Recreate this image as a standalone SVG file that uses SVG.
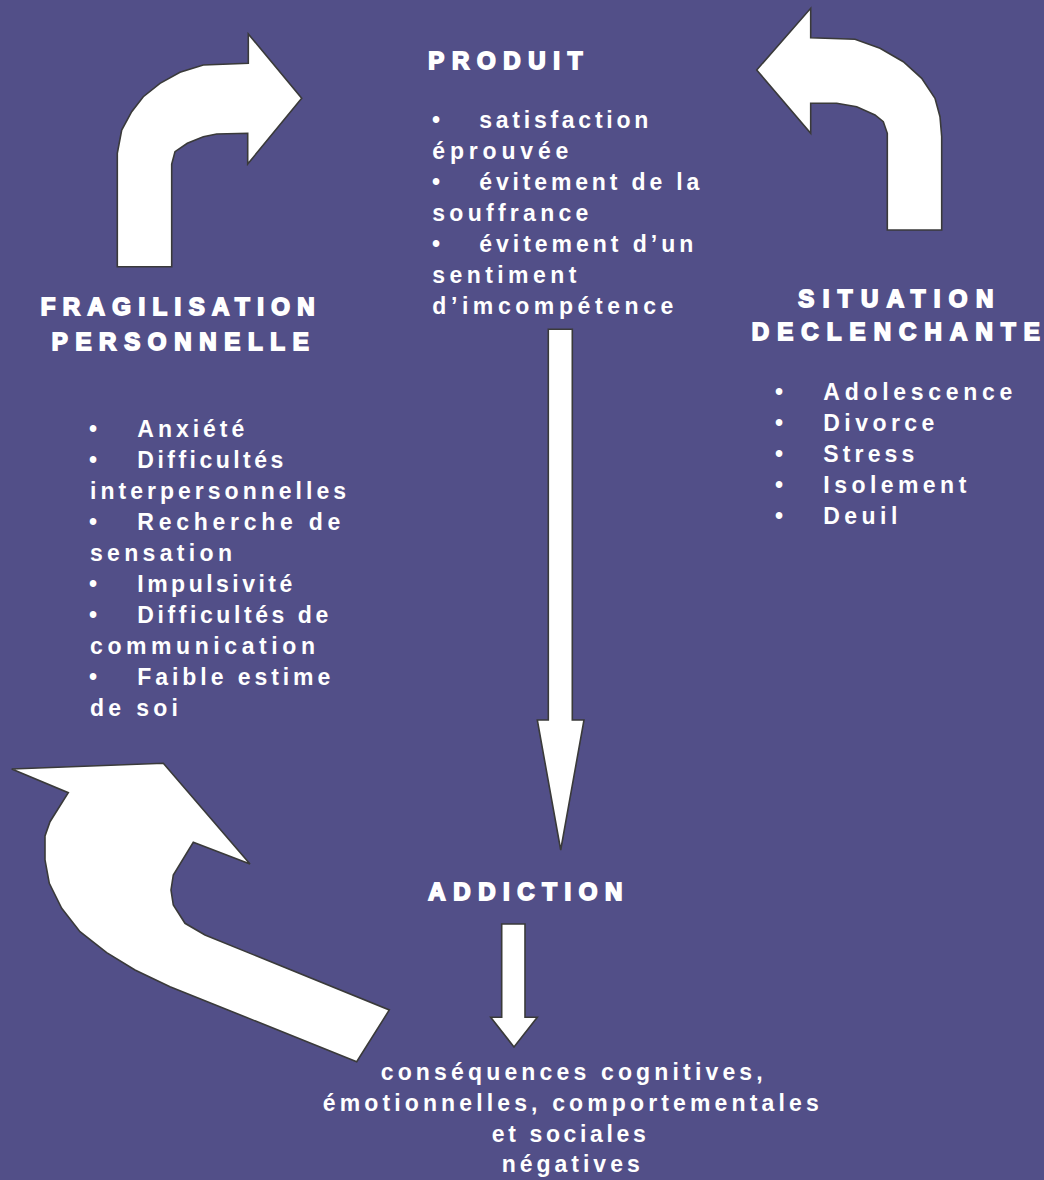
<svg xmlns="http://www.w3.org/2000/svg" width="1044" height="1180" viewBox="0 0 1044 1180">
<style>
.t{font-family:"Liberation Sans",Arial,sans-serif;font-weight:bold;font-size:23px;fill:#fff}
.h{font-family:"Liberation Sans",Arial,sans-serif;font-weight:bold;font-size:24px;fill:#fff;stroke:#fff;stroke-width:1.8}
.ar{fill:#fff;stroke:#3a3a3a;stroke-width:1.6;stroke-linejoin:miter}
</style>
<rect width="1044" height="1180" fill="#524F88"/>
<g id="connectors">
<polygon class="ar" points="117.3,266.7 171.7,266.7 171.7,164 175,151.7 187.3,143.3 203.3,136.7 216.7,134 247.7,133.3 247.7,164 301.7,98.3 248.3,34 248.3,63.3 203.3,65 180,72.3 160,83.3 143.3,96.7 131.7,111.7 121.7,130 117.3,153.3"/>
<polygon class="ar" points="756.7,70 810.7,8.3 810.7,37.7 855,39.3 880,48.3 903.3,61.7 921.7,78.3 935,98.3 940,116.7 941.7,136.7 941.7,230 887.3,230 887.3,133.3 883.3,121.7 875,115 856.7,106.7 836.7,103.3 810.7,103.3 810.7,133.3"/>
<polygon class="ar" points="11.7,769 163.3,763.3 250,864 193.3,842.3 173.3,875 171,890 173.3,905 185,923.3 205,935 389.3,1010 356.7,1061.7 170,986.7 135,970 106.7,952.7 80,931.7 61.7,908.3 49.3,883.3 45,860 45,836 50,821.7 68.3,792.7"/>
<polygon class="ar" points="548.3,329.3 572.3,329.3 572.3,720 584,720 560.7,850 537.3,720 548.3,720"/>
<polygon class="ar" points="501.7,924 525,924 525,1017.3 537.3,1017.3 514,1047 490.7,1017.3 501.7,1017.3"/>
</g>
<g id="produit">
<text class="h" x="428.3" y="69.3" textLength="154" lengthAdjust="spacing">PRODUIT</text>
<text class="t" x="432" y="128.3">•</text>
<text class="t" x="479.3" y="128.3" textLength="169" lengthAdjust="spacing">satisfaction</text>
<text class="t" x="432.3" y="159.3" textLength="136" lengthAdjust="spacing">éprouvée</text>
<text class="t" x="432" y="190.3">•</text>
<text class="t" x="479.3" y="190.3" textLength="220" lengthAdjust="spacing">évitement de la</text>
<text class="t" x="432.3" y="221" textLength="156" lengthAdjust="spacing">souffrance</text>
<text class="t" x="432" y="252">•</text>
<text class="t" x="479.3" y="252" textLength="214" lengthAdjust="spacing">évitement d’un</text>
<text class="t" x="432.3" y="283" textLength="144" lengthAdjust="spacing">sentiment</text>
<text class="t" x="432.3" y="314" textLength="241" lengthAdjust="spacing">d’imcompétence</text>
</g>
<g id="fragilisation">
<text class="h" x="40.7" y="315" textLength="274" lengthAdjust="spacing">FRAGILISATION</text>
<text class="h" x="51.7" y="350" textLength="257" lengthAdjust="spacing">PERSONNELLE</text>
<text class="t" x="89" y="437">•</text>
<text class="t" x="137.3" y="437" textLength="107" lengthAdjust="spacing">Anxiété</text>
<text class="t" x="89" y="468">•</text>
<text class="t" x="137.3" y="468" textLength="146" lengthAdjust="spacing">Difficultés</text>
<text class="t" x="90" y="499" textLength="256" lengthAdjust="spacing">interpersonnelles</text>
<text class="t" x="89" y="530">•</text>
<text class="t" x="137.3" y="530" textLength="203" lengthAdjust="spacing">Recherche de</text>
<text class="t" x="90" y="561" textLength="142" lengthAdjust="spacing">sensation</text>
<text class="t" x="89" y="592">•</text>
<text class="t" x="137.3" y="592" textLength="155" lengthAdjust="spacing">Impulsivité</text>
<text class="t" x="89" y="623">•</text>
<text class="t" x="137.3" y="623" textLength="191" lengthAdjust="spacing">Difficultés de</text>
<text class="t" x="90" y="654" textLength="225" lengthAdjust="spacing">communication</text>
<text class="t" x="89" y="685">•</text>
<text class="t" x="137.3" y="685" textLength="193" lengthAdjust="spacing">Faible estime</text>
<text class="t" x="90" y="716" textLength="88" lengthAdjust="spacing">de soi</text>
</g>
<g id="situation">
<text class="h" x="798.3" y="306.7" textLength="195" lengthAdjust="spacing">SITUATION</text>
<text class="h" x="751.7" y="340" textLength="288" lengthAdjust="spacing">DECLENCHANTE</text>
<text class="t" x="775" y="400">•</text>
<text class="t" x="823.3" y="400" textLength="189" lengthAdjust="spacing">Adolescence</text>
<text class="t" x="775" y="431">•</text>
<text class="t" x="823.3" y="431" textLength="111" lengthAdjust="spacing">Divorce</text>
<text class="t" x="775" y="462">•</text>
<text class="t" x="823.3" y="462" textLength="91" lengthAdjust="spacing">Stress</text>
<text class="t" x="775" y="493">•</text>
<text class="t" x="823.3" y="493" textLength="143" lengthAdjust="spacing">Isolement</text>
<text class="t" x="775" y="524">•</text>
<text class="t" x="823.3" y="524" textLength="74" lengthAdjust="spacing">Deuil</text>
</g>
<g id="addiction">
<text class="h" x="428.3" y="900" textLength="194" lengthAdjust="spacing">ADDICTION</text>
</g>
<g id="consequences">
<text class="t" x="380.7" y="1080" textLength="382" lengthAdjust="spacing">conséquences cognitives,</text>
<text class="t" x="322.7" y="1111" textLength="496" lengthAdjust="spacing">émotionnelles, comportementales</text>
<text class="t" x="491.7" y="1142" textLength="154" lengthAdjust="spacing">et sociales</text>
<text class="t" x="501.7" y="1172" textLength="138" lengthAdjust="spacing">négatives</text>
</g>
</svg>
